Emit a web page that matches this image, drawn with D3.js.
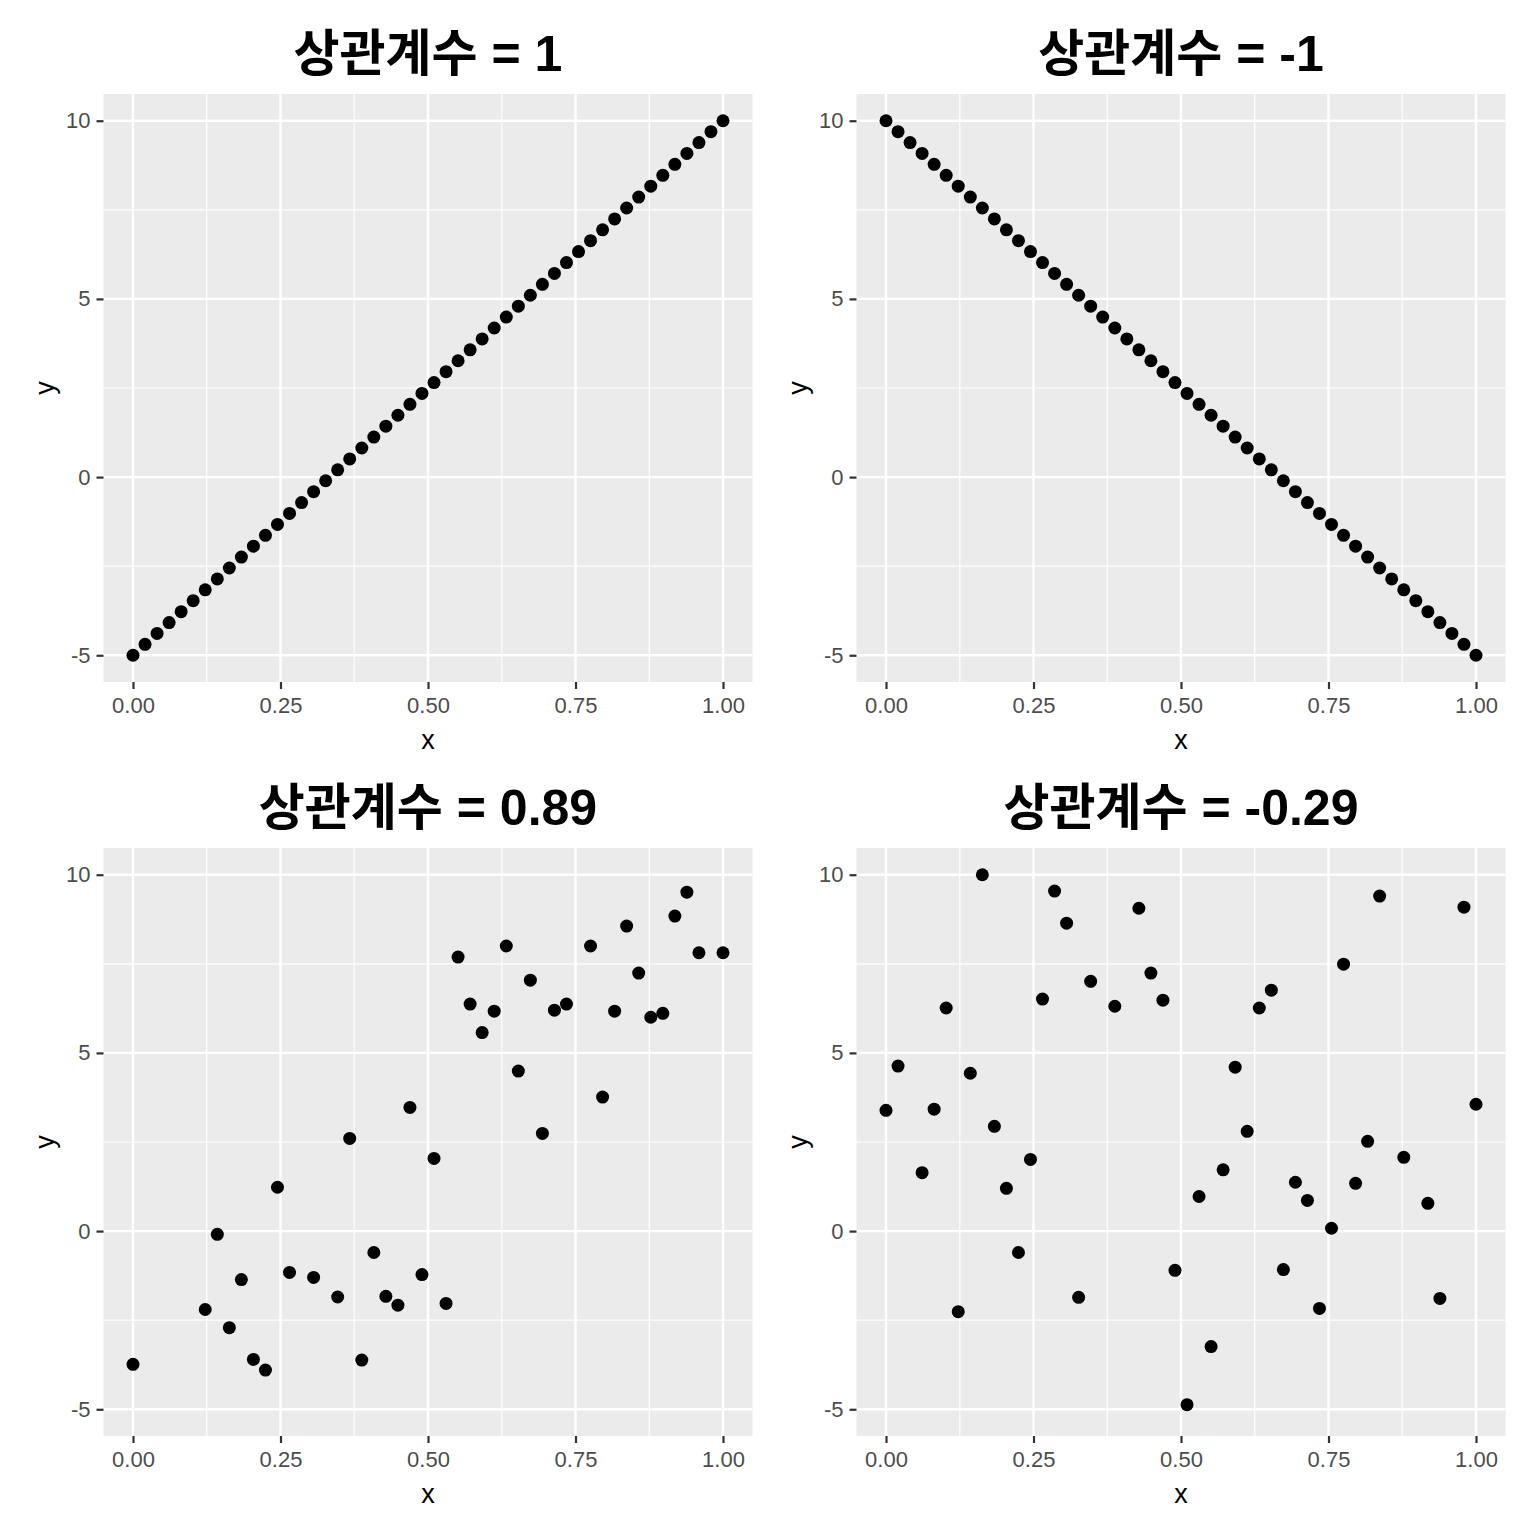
<!DOCTYPE html>
<html>
<head>
<meta charset="utf-8">
<script src="https://cdn.jsdelivr.net/npm/d3@7"></script>
<style>
  body { margin: 0; background: #fff; }
  svg { display: block; }
</style>
</head>
<body>
<div id="chart"></div>
<script>
"use strict";
// x positions (0..1 in 49 steps) for the two perfect-correlation panels
const xLine = [0, 0.0204, 0.0408, 0.0612, 0.0816, 0.1020, 0.1224, 0.1429, 0.1633, 0.1837,
  0.2041, 0.2245, 0.2449, 0.2653, 0.2857, 0.3061, 0.3265, 0.3469, 0.3673, 0.3878,
  0.4082, 0.4286, 0.4490, 0.4694, 0.4898, 0.5102, 0.5306, 0.5510, 0.5714, 0.5918,
  0.6122, 0.6327, 0.6531, 0.6735, 0.6939, 0.7143, 0.7347, 0.7551, 0.7755, 0.7959,
  0.8163, 0.8367, 0.8571, 0.8776, 0.8980, 0.9184, 0.9388, 0.9592, 0.9796, 1];
const yPositive = [-5, -4.694, -4.388, -4.082, -3.776, -3.469, -3.163, -2.857, -2.551, -2.245,
  -1.939, -1.633, -1.327, -1.020, -0.714, -0.408, -0.102, 0.204, 0.510, 0.816,
  1.122, 1.429, 1.735, 2.041, 2.347, 2.653, 2.959, 3.265, 3.571, 3.878,
  4.184, 4.490, 4.796, 5.102, 5.408, 5.714, 6.020, 6.327, 6.633, 6.939,
  7.245, 7.551, 7.857, 8.163, 8.469, 8.776, 9.082, 9.388, 9.694, 10];
const yNegative = [10, 9.694, 9.388, 9.082, 8.776, 8.469, 8.163, 7.857, 7.551, 7.245,
  6.939, 6.633, 6.327, 6.020, 5.714, 5.408, 5.102, 4.796, 4.490, 4.184,
  3.878, 3.571, 3.265, 2.959, 2.653, 2.347, 2.041, 1.735, 1.429, 1.122,
  0.816, 0.510, 0.204, -0.102, -0.408, -0.714, -1.020, -1.327, -1.633, -1.939,
  -2.245, -2.551, -2.857, -3.163, -3.469, -3.776, -4.082, -4.388, -4.694, -5];

// r = 0.89
const xStrong = [0, 0.1224, 0.1429, 0.1633, 0.1837, 0.2041, 0.2245, 0.2449, 0.2653, 0.3061,
  0.3469, 0.3673, 0.3878, 0.4082, 0.4286, 0.4490, 0.4694, 0.4898, 0.5102, 0.5306,
  0.5510, 0.5714, 0.5918, 0.6122, 0.6327, 0.6531, 0.6735, 0.6939, 0.7143, 0.7347,
  0.7755, 0.7959, 0.8163, 0.8367, 0.8571, 0.8776, 0.8980, 0.9184, 0.9388, 0.9592, 1];
const yStrong = [-3.74, -2.20, -0.09, -2.71, -1.36, -3.60, -3.90, 1.23, -1.16, -1.30,
  -1.85, 2.60, -3.62, -0.60, -1.83, -2.08, 3.47, -1.22, 2.04, -2.03,
  7.69, 6.37, 5.57, 6.17, 8.00, 4.49, 7.04, 2.74, 6.20, 6.37,
  8.00, 3.76, 6.17, 8.56, 7.24, 6.00, 6.11, 8.84, 9.51, 7.81, 7.81];

// r = -0.29
const xWeak = [0, 0.0204, 0.0612, 0.0816, 0.1020, 0.1224, 0.1429, 0.1633, 0.1837, 0.2041,
  0.2245, 0.2449, 0.2653, 0.2857, 0.3061, 0.3265, 0.3469, 0.3878, 0.4286, 0.4490,
  0.4694, 0.4898, 0.5102, 0.5306, 0.5510, 0.5714, 0.5918, 0.6122, 0.6327, 0.6531,
  0.6735, 0.6939, 0.7143, 0.7347, 0.7551, 0.7755, 0.7959, 0.8163, 0.8367, 0.8776,
  0.9184, 0.9388, 0.9796, 1];
const yWeak = [3.39, 4.63, 1.64, 3.42, 6.26, -2.26, 4.43, 10, 2.94, 1.20,
  -0.60, 2.01, 6.51, 9.54, 8.64, -1.86, 7.01, 6.31, 9.06, 7.24,
  6.48, -1.10, -4.87, 0.97, -3.24, 1.72, 4.60, 2.80, 6.26, 6.76,
  -1.08, 1.37, 0.86, -2.17, 0.08, 7.49, 1.34, 2.52, 9.40, 2.07,
  0.78, -1.89, 9.09, 3.56];

const titles = ["상관계수 = 1", "상관계수 = -1", "상관계수 = 0.89", "상관계수 = -0.29"];
const xTicks = [0, 0.25, 0.5, 0.75, 1];
const yTicks = [-5, 0, 5, 10];
const xMinor = [0.125, 0.375, 0.625, 0.875];
const yMinor = [-2.5, 2.5, 7.5];

const panels = [
  { title: titles[0], xs: xLine, ys: yPositive, left: 103.5, top: 94 },
  { title: titles[1], xs: xLine, ys: yNegative, left: 856.5, top: 94 },
  { title: titles[2], xs: xStrong, ys: yStrong, left: 103.5, top: 848 },
  { title: titles[3], xs: xWeak, ys: yWeak, left: 856.5, top: 848 }
];

const svgWidth = 1536;
const svgHeight = 1536;
const panelWidth = 649;
const panelHeight = 588;
const textFont = "'Liberation Sans', Arial, 'Noto Sans CJK KR', sans-serif";

const svg = d3.select("#chart")
  .append("svg")
  .attr("width", svgWidth)
  .attr("height", svgHeight);

svg.append("rect")
  .attr("width", svgWidth)
  .attr("height", svgHeight)
  .attr("fill", "#ffffff");

panels.forEach(p => {
  const xScale = d3.scaleLinear()
    .domain([-0.05, 1.05])
    .range([p.left, p.left + panelWidth]);
  const yScale = d3.scaleLinear()
    .domain([-5.75, 10.75])
    .range([p.top + panelHeight, p.top]);

  const g = svg.append("g");

  g.append("rect")
    .attr("x", p.left)
    .attr("y", p.top)
    .attr("width", panelWidth)
    .attr("height", panelHeight)
    .attr("fill", "#ebebeb");

  // minor grid
  g.selectAll(".vminor")
    .data(xMinor)
    .enter()
    .append("line")
    .attr("x1", d => xScale(d))
    .attr("x2", d => xScale(d))
    .attr("y1", p.top)
    .attr("y2", p.top + panelHeight)
    .attr("stroke", "#ffffff")
    .attr("stroke-width", 1.2);
  g.selectAll(".hminor")
    .data(yMinor)
    .enter()
    .append("line")
    .attr("x1", p.left)
    .attr("x2", p.left + panelWidth)
    .attr("y1", d => yScale(d))
    .attr("y2", d => yScale(d))
    .attr("stroke", "#ffffff")
    .attr("stroke-width", 1.2);

  // major grid
  g.selectAll(".vmajor")
    .data(xTicks)
    .enter()
    .append("line")
    .attr("x1", d => xScale(d))
    .attr("x2", d => xScale(d))
    .attr("y1", p.top)
    .attr("y2", p.top + panelHeight)
    .attr("stroke", "#ffffff")
    .attr("stroke-width", 2.4);
  g.selectAll(".hmajor")
    .data(yTicks)
    .enter()
    .append("line")
    .attr("x1", p.left)
    .attr("x2", p.left + panelWidth)
    .attr("y1", d => yScale(d))
    .attr("y2", d => yScale(d))
    .attr("stroke", "#ffffff")
    .attr("stroke-width", 2.4);

  // points
  g.selectAll("circle")
    .data(p.xs.map((x, i) => [x, p.ys[i]]))
    .enter()
    .append("circle")
    .attr("cx", d => xScale(d[0]))
    .attr("cy", d => yScale(d[1]))
    .attr("r", 6.5)
    .attr("fill", "#000000");

  // axes
  const xAxis = d3.axisBottom(xScale)
    .tickValues(xTicks)
    .tickFormat(d3.format(".2f"))
    .tickSize(7)
    .tickPadding(8);
  const yAxis = d3.axisLeft(yScale)
    .tickValues(yTicks)
    .tickFormat(d => String(d))
    .tickSize(7)
    .tickPadding(6);

  const gx = g.append("g")
    .attr("transform", `translate(0, ${p.top + panelHeight})`)
    .call(xAxis);
  const gy = g.append("g")
    .attr("transform", `translate(${p.left}, 0)`)
    .call(yAxis);

  [gx, gy].forEach(a => {
    a.select(".domain").remove();
    a.selectAll(".tick line")
      .attr("stroke", "#333333")
      .attr("stroke-width", 2.2);
    a.selectAll(".tick text")
      .attr("fill", "#4d4d4d")
      .style("font-family", textFont)
      .style("font-size", "22px");
  });

  // axis titles
  g.append("text")
    .attr("x", p.left + panelWidth / 2)
    .attr("y", p.top + panelHeight + 67)
    .attr("text-anchor", "middle")
    .style("font-family", textFont)
    .style("font-size", "27px")
    .text("x");
  g.append("text")
    .attr("transform", `translate(${p.left - 50}, ${p.top + panelHeight / 2}) rotate(-90)`)
    .attr("text-anchor", "middle")
    .style("font-family", textFont)
    .style("font-size", "27px")
    .text("y");

  // panel title
  g.append("text")
    .attr("x", p.left + panelWidth / 2)
    .attr("y", p.top - 23)
    .attr("text-anchor", "middle")
    .style("font-family", textFont)
    .style("font-weight", "bold")
    .style("font-size", "50px")
    .text(p.title);
});
</script>
</body>
</html>
